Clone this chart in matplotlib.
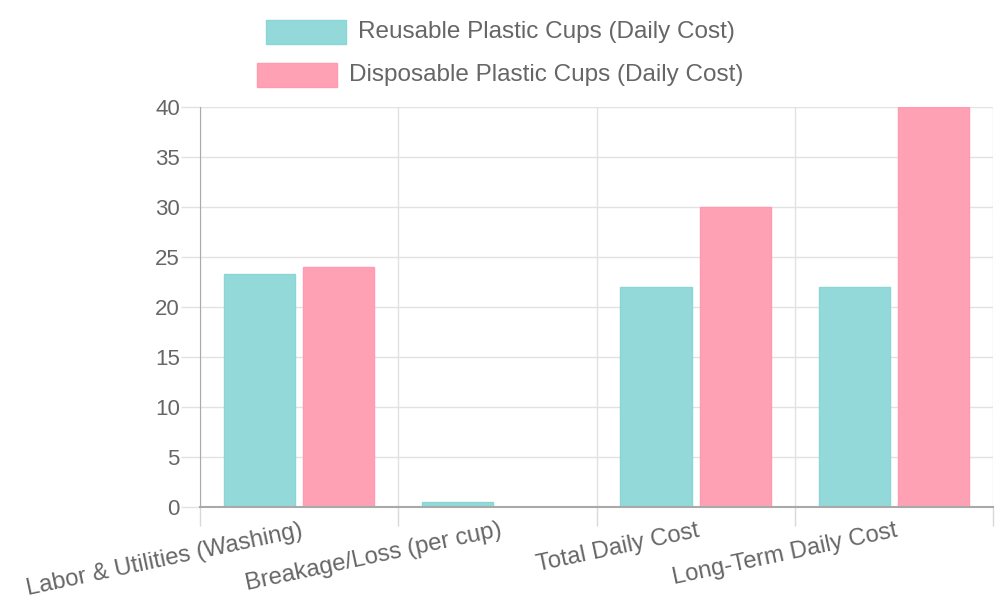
import matplotlib.pyplot as plt
import numpy as np
from matplotlib.patches import Rectangle

plt.rcParams["font.family"] = ["Liberation Sans", "DejaVu Sans"]

categories = ["Labor & Utilities (Washing)", "Breakage/Loss (per cup)",
              "Total Daily Cost", "Long-Term Daily Cost"]
series_names = ["Reusable Plastic Cups (Daily Cost)", "Disposable Plastic Cups (Daily Cost)"]
reusable = [23.3, 0.5, 22, 22]
disposable = [24, 0, 30, 40]

fills = ["#93d9d9", "#ffa1b5"]
edges = ["#8ad5d5", "#ff9ab0"]
TXT = "#666666"
GRID = "#e2e2e2"

fig = plt.figure(figsize=(10, 6), dpi=100)
ax = fig.add_axes([0.2, 0.155, 0.793, 0.667])

x = np.arange(len(categories))
w = 0.36
ax.bar(x - 0.2, reusable, w, color=fills[0], edgecolor=edges[0], linewidth=1, zorder=2)
ax.bar(x + 0.2, disposable, w, color=fills[1], edgecolor=edges[1], linewidth=1, zorder=2)

ax.set_xlim(-0.5, len(categories) - 0.5)
ax.set_ylim(0, 40)
ax.set_yticks(range(0, 41, 5))
ax.tick_params(axis="y", labelsize=16, colors=GRID, labelcolor=TXT, length=14, width=1, pad=0.5)

# category boundaries carry the vertical grid and the x ticks
bounds = np.arange(-0.5, len(categories), 1.0)
ax.set_xticks(bounds)
ax.set_xticklabels([])
ax.tick_params(axis="x", colors="#d9d9d9", length=14, width=1)
for b in bounds:
    ax.axvline(b, color=GRID, lw=1, zorder=0)
ax.grid(axis="y", color=GRID, lw=1, zorder=0)
ax.set_axisbelow(True)

for s in ["top", "right"]:
    ax.spines[s].set_visible(False)
ax.spines["left"].set_color("#aaaaaa")
ax.spines["bottom"].set_color("#a9a9a9")
ax.spines["bottom"].set_linewidth(1.5)

for xi, lab in zip(x, categories):
    ax.annotate(lab, xy=(xi, 0), xycoords=("data", "axes fraction"),
                xytext=(1, -9), textcoords="offset points",
                rotation=12, rotation_mode="anchor", ha="right", va="top",
                fontsize=17.2, color=TXT)

# legend, one centred row per series
legend_rows = [0.947, 0.875]
box_w, box_h, gap = 0.08, 0.039, 0.012
fig.canvas.draw()
for name, fc, ec, yy in zip(series_names, fills, edges, legend_rows):
    t = fig.text(0.5, yy, name, ha="left", va="center", fontsize=17.5, color=TXT)
    bb = t.get_window_extent(renderer=fig.canvas.get_renderer()).transformed(
        fig.transFigure.inverted())
    total = box_w + gap + bb.width
    x0 = 0.5 - total / 2
    t.set_x(x0 + box_w + gap)
    fig.patches.append(Rectangle((x0, yy - box_h / 2), box_w, box_h,
                                 transform=fig.transFigure, facecolor=fc,
                                 edgecolor=ec, lw=1))

fig.savefig("out.png", dpi=100)
